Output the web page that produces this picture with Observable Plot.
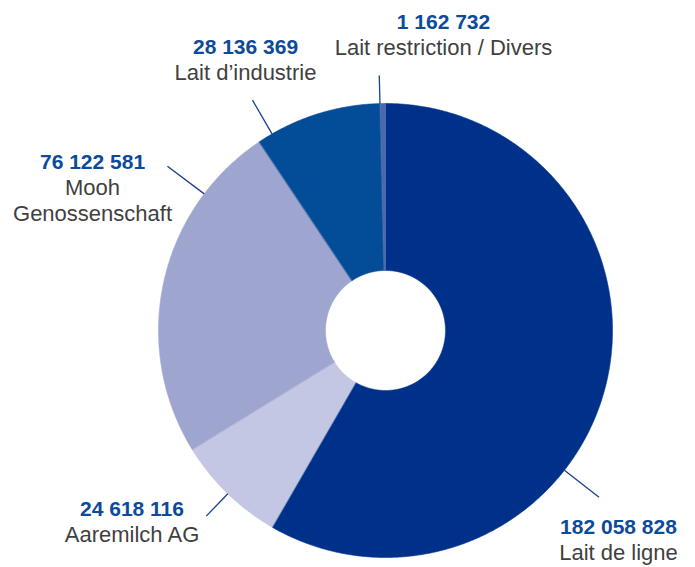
<!DOCTYPE html>
<html><head><meta charset="utf-8">
<script src="https://cdn.jsdelivr.net/npm/d3@7"></script>
<script src="https://cdn.jsdelivr.net/npm/@observablehq/plot@0.6"></script>
<style>html,body{margin:0;padding:0;background:#fff}</style>
</head><body><div id="chart"></div>
<script>
// ---- data ----
const categories = ["Lait de ligne", "Aaremilch AG", "Mooh\nGenossenschaft", "Lait d’industrie", "Lait restriction / Divers"];
const values = [182058828, 24618116, 76122581, 28136369, 1162732];
const colors = ["#00318a", "#c3c7e3", "#9ea6d0", "#034d98", "#4a69ac"];

// ---- layout ----
const W = 695, H = 567, CX = 385, CY = 330, R = 227, R0 = 60;
const leaderAngles = [128, 224, 307, 330, 358.6];   // degrees, clockwise from top
const leaderOuter = [271, 258, 273, 266, 255];
const labelX = [618, 131.5, 92, 245, 443];
const labelY = [533, 515, 168, 53, 28];             // baseline of the number
const LINE = 26, FS = 21, FSN = 22;

const fmt = d3.formatLocale({thousands: " ", grouping: [3], decimal: ","}).format(",");
const arcs = d3.pie().sort(null).value(d => d)(values);
const toRad = Math.PI / 180;

// slice polygons (in the x/y scale space)
const pts = [];
arcs.forEach((a, i) => {
  const n = Math.max(4, Math.ceil((a.endAngle - a.startAngle) / (0.4 * toRad)));
  for (let k = 0; k <= n; k++) {
    const t = a.startAngle + (a.endAngle - a.startAngle) * k / n;
    pts.push({name: categories[i], x: CX + R * Math.sin(t), y: CY - R * Math.cos(t)});
  }
  for (let k = n; k >= 0; k--) {
    const t = a.startAngle + (a.endAngle - a.startAngle) * k / n;
    pts.push({name: categories[i], x: CX + R0 * Math.sin(t), y: CY - R0 * Math.cos(t)});
  }
});

const leaders = categories.map((c, i) => {
  const t = leaderAngles[i] * toRad;
  return {x1: CX + R * Math.sin(t), y1: CY - R * Math.cos(t),
          x2: CX + leaderOuter[i] * Math.sin(t), y2: CY - leaderOuter[i] * Math.cos(t)};
});

const labels = categories.map((c, i) => ({
  num: fmt(values[i]), name: c, x: labelX[i], y: labelY[i],
  yName: labelY[i] + LINE * c.split("\n").length
}));

const plot = Plot.plot({
  width: W, height: H, margin: 0,
  x: {domain: [0, W], range: [0, W], axis: null},
  y: {domain: [0, H], range: [0, H], axis: null},
  color: {domain: categories, range: colors},
  style: {fontFamily: "'Liberation Sans', Arial, sans-serif", background: "#fff"},
  marks: [
    Plot.line(pts, {x: "x", y: "y", z: "name", fill: "name", stroke: "name", strokeWidth: 0.6, curve: "linear-closed"}),
    Plot.link(leaders, {x1: "x1", y1: "y1", x2: "x2", y2: "y2", stroke: "#1a3f8e", strokeWidth: 1.3}),
    Plot.text(labels, {x: "x", y: "y", text: "num", textAnchor: "middle", lineAnchor: "bottom",
      fontSize: FS, fontWeight: "bold", fill: "#0c4a9b"}),
    Plot.text(labels, {x: "x", y: "yName", text: "name", textAnchor: "middle", lineAnchor: "bottom",
      fontSize: FSN, lineHeight: LINE / FSN, fill: "#3f3f3f"})
  ]
});
document.getElementById("chart").appendChild(plot);
</script>
</body></html>
